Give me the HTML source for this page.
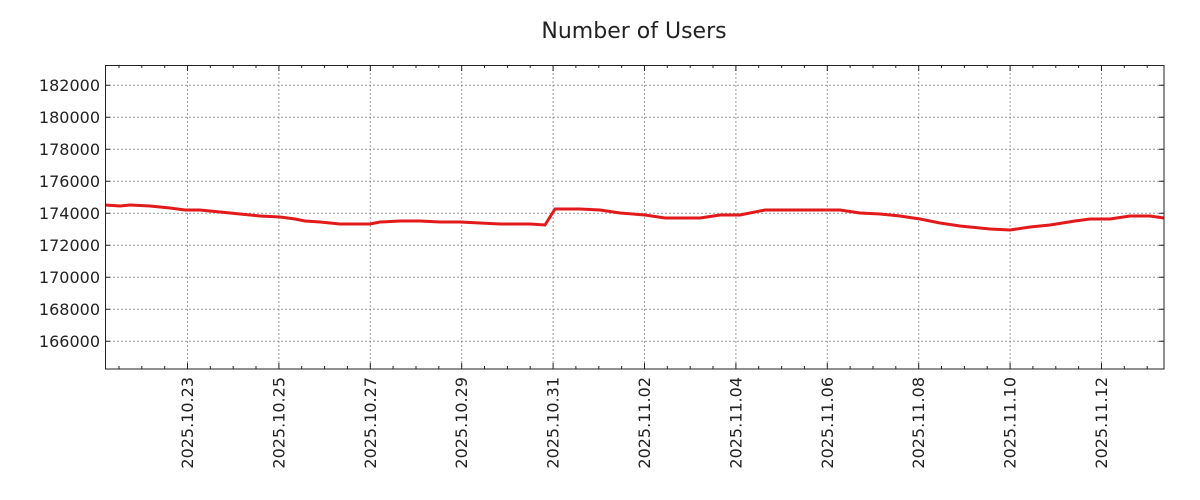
<!DOCTYPE html>
<html><head><meta charset="utf-8"><style>
html,body{margin:0;padding:0;background:#fff;}
svg{display:block;font-family:"DejaVu Sans","Liberation Sans",sans-serif;}
</style></head><body>
<svg width="1200" height="500" viewBox="0 0 1200 500" xmlns="http://www.w3.org/2000/svg">
<text x="634" y="38" font-size="22" text-anchor="middle" fill="#222">Number of Users</text>
<g stroke="#999" stroke-width="1" stroke-dasharray="2,2">
<line x1="105" x2="1164" y1="85.3" y2="85.3"/>
<line x1="105" x2="1164" y1="117.3" y2="117.3"/>
<line x1="105" x2="1164" y1="149.3" y2="149.3"/>
<line x1="105" x2="1164" y1="181.3" y2="181.3"/>
<line x1="105" x2="1164" y1="213.3" y2="213.3"/>
<line x1="105" x2="1164" y1="245.3" y2="245.3"/>
<line x1="105" x2="1164" y1="277.3" y2="277.3"/>
<line x1="105" x2="1164" y1="309.3" y2="309.3"/>
<line x1="105" x2="1164" y1="341.3" y2="341.3"/>
<line y1="65" y2="369" x1="187.5" x2="187.5"/>
<line y1="65" y2="369" x1="278.9" x2="278.9"/>
<line y1="65" y2="369" x1="370.3" x2="370.3"/>
<line y1="65" y2="369" x1="461.7" x2="461.7"/>
<line y1="65" y2="369" x1="553.1" x2="553.1"/>
<line y1="65" y2="369" x1="644.5" x2="644.5"/>
<line y1="65" y2="369" x1="735.9" x2="735.9"/>
<line y1="65" y2="369" x1="827.3" x2="827.3"/>
<line y1="65" y2="369" x1="918.7" x2="918.7"/>
<line y1="65" y2="369" x1="1010.1" x2="1010.1"/>
<line y1="65" y2="369" x1="1101.5" x2="1101.5"/>
</g>
<g stroke="#222" stroke-width="1" id="ticks">
<path d="M105,85.3h5M105,117.3h5M105,149.3h5M105,181.3h5M105,213.3h5M105,245.3h5M105,277.3h5M105,309.3h5M105,341.3h5"/>
<path d="M1164,85.3h-5M1164,117.3h-5M1164,149.3h-5M1164,181.3h-5M1164,213.3h-5M1164,245.3h-5M1164,277.3h-5M1164,309.3h-5M1164,341.3h-5"/>
<path d="M187.5,369v-6M278.9,369v-6M370.3,369v-6M461.7,369v-6M553.1,369v-6M644.5,369v-6M735.9,369v-6M827.3,369v-6M918.7,369v-6M1010.1,369v-6M1101.5,369v-6"/>
<path d="M187.5,65v6M278.9,65v6M370.3,65v6M461.7,65v6M553.1,65v6M644.5,65v6M735.9,65v6M827.3,65v6M918.7,65v6M1010.1,65v6M1101.5,65v6"/>
<path d="M119,369v-3M141.8,369v-3M164.7,369v-3M210.3,369v-3M233.2,369v-3M256,369v-3M301.7,369v-3M324.6,369v-3M347.4,369v-3M393.1,369v-3M416,369v-3M438.8,369v-3M484.5,369v-3M507.4,369v-3M530.2,369v-3M575.9,369v-3M598.8,369v-3M621.6,369v-3M667.3,369v-3M690.2,369v-3M713,369v-3M758.7,369v-3M781.6,369v-3M804.4,369v-3M850.1,369v-3M873,369v-3M895.8,369v-3M941.5,369v-3M964.4,369v-3M987.2,369v-3M1032.9,369v-3M1055.8,369v-3M1078.6,369v-3M1124.3,369v-3M1147.2,369v-3"/>
<path d="M119,65v3M141.8,65v3M164.7,65v3M210.3,65v3M233.2,65v3M256,65v3M301.7,65v3M324.6,65v3M347.4,65v3M393.1,65v3M416,65v3M438.8,65v3M484.5,65v3M507.4,65v3M530.2,65v3M575.9,65v3M598.8,65v3M621.6,65v3M667.3,65v3M690.2,65v3M713,65v3M758.7,65v3M781.6,65v3M804.4,65v3M850.1,65v3M873,65v3M895.8,65v3M941.5,65v3M964.4,65v3M987.2,65v3M1032.9,65v3M1055.8,65v3M1078.6,65v3M1124.3,65v3M1147.2,65v3"/>
</g>
<polyline fill="none" stroke="#e31a1c" stroke-width="3" points="105,205 120,206 130,205 150,206 170,208 185,210 200,210 220,212 240,214 260,216 280,217 295,219 305,221 320,222 340,224 370,224 380,222 400,221 420,221 440,222 460,222 480,223 500,224 530,224 545,225 555,209 580,209 600,210 620,213 645,215 665,218 700,218 720,215 740,215 765,210 800,210 840,210 860,213 880,214 900,216 920,219 940,223 960,226 990,229 1010,230 1030,227 1050,225 1075,221 1090,219 1110,219 1130,216 1150,216 1164,218"/>
<rect x="105.5" y="65.5" width="1058.5" height="303.5" fill="none" stroke="#222" stroke-width="1"/>
<g font-size="16" fill="#222" text-anchor="end">
<text x="100" y="91">182000</text>
<text x="100" y="123">180000</text>
<text x="100" y="155">178000</text>
<text x="100" y="187">176000</text>
<text x="100" y="219">174000</text>
<text x="100" y="251">172000</text>
<text x="100" y="283">170000</text>
<text x="100" y="315">168000</text>
<text x="100" y="347">166000</text>
</g>
<g font-size="16" fill="#222" text-anchor="end">
<text transform="translate(193,377) rotate(-90)">2025.10.23</text>
<text transform="translate(284.4,377) rotate(-90)">2025.10.25</text>
<text transform="translate(375.8,377) rotate(-90)">2025.10.27</text>
<text transform="translate(467.2,377) rotate(-90)">2025.10.29</text>
<text transform="translate(558.6,377) rotate(-90)">2025.10.31</text>
<text transform="translate(650,377) rotate(-90)">2025.11.02</text>
<text transform="translate(741.4,377) rotate(-90)">2025.11.04</text>
<text transform="translate(832.8,377) rotate(-90)">2025.11.06</text>
<text transform="translate(924.2,377) rotate(-90)">2025.11.08</text>
<text transform="translate(1015.6,377) rotate(-90)">2025.11.10</text>
<text transform="translate(1107,377) rotate(-90)">2025.11.12</text>
</g>
</svg>
</body></html>
